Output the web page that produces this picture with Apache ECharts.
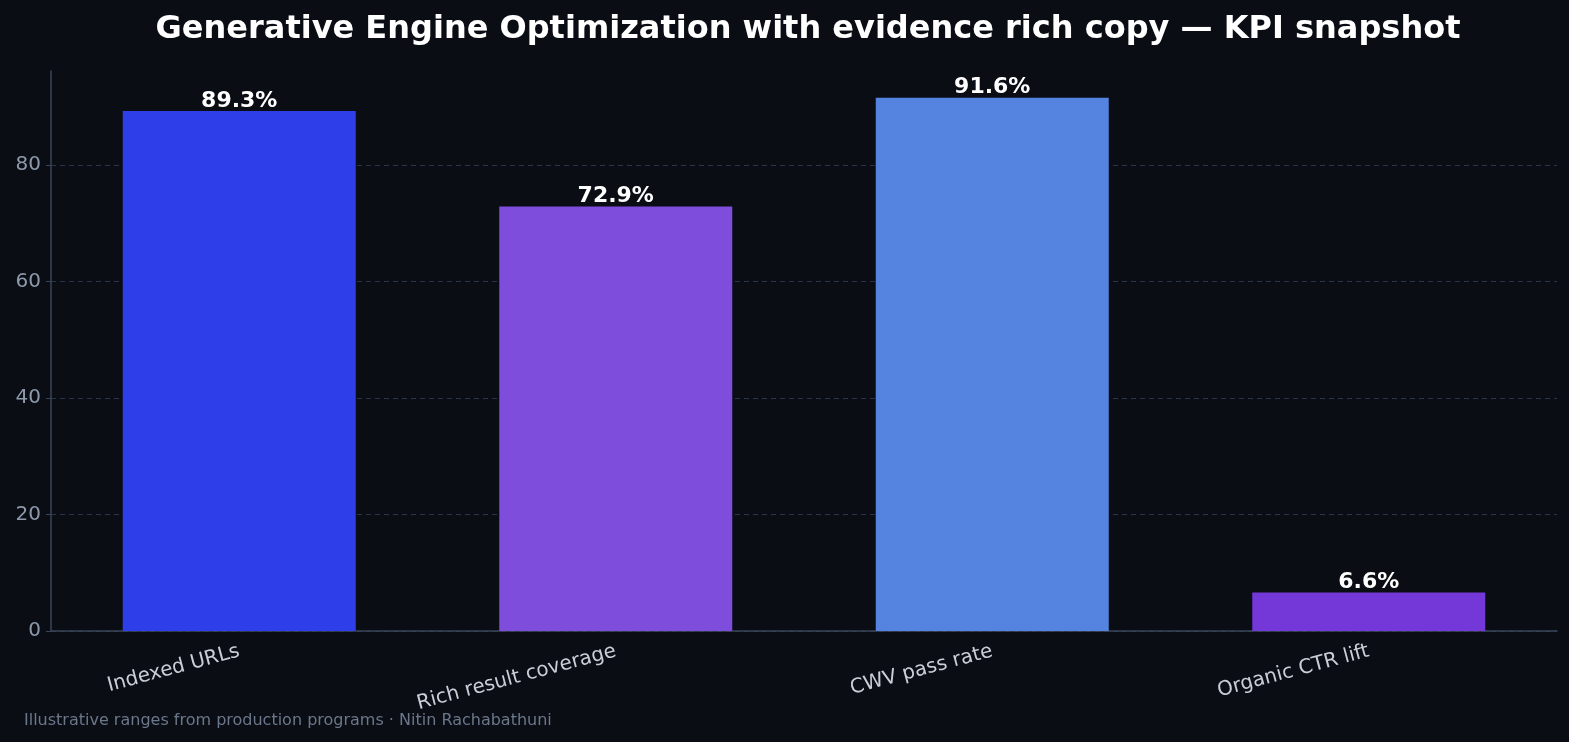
<!DOCTYPE html>
<html>
<head>
<meta charset="utf-8">
<script src="https://cdn.jsdelivr.net/npm/echarts@6/dist/echarts.min.js"></script>
<style>
  html, body { margin: 0; padding: 0; background: #0a0d14; }
  #chart { width: 1569px; height: 742px; }
</style>
</head>
<body>
<div id="chart"></div>
<script>
// KPI snapshot values
var categories = ["Indexed URLs", "Rich result coverage", "CWV pass rate", "Organic CTR lift"];
var values = [89.3, 72.9, 91.6, 6.6];
var barColors = ["#2e3fea", "#7e4ddc", "#5584e0", "#7437d8"];
var yTicks = [0, 20, 40, 60, 80];

var FONT = "DejaVu Sans, sans-serif";
var GRID_COLOR = "#29334a";

function initChartWithOption(id, option) {
    var myChart = echarts.init(document.getElementById(id));
    myChart.setOption(option);
}

var barData = [];
for (var i = 0; i < values.length; i++) {
    barData.push({ value: values[i], itemStyle: { color: barColors[i] } });
}

// one colour per split line; the last one (at the axis max) stays hidden
var splitColors = [];
for (var i = 0; i < yTicks.length; i++) splitColors.push(GRID_COLOR);
splitColors.push("rgba(0,0,0,0)");

var option = {
    backgroundColor: "#0a0d14",
    animation: false,
    title: {
        text: "Generative Engine Optimization with evidence rich copy \u2014 KPI snapshot",
        left: 803,
        top: 9,
        textAlign: "center",
        textStyle: { color: "#ffffff", fontFamily: FONT, fontWeight: "bold", fontSize: 32 }
    },
    grid: { left: 51, right: 12, top: 71, bottom: 111, containLabel: false },
    xAxis: {
        type: "category",
        data: categories,
        axisLine: { lineStyle: { color: "#3a4559", width: 1.5 } },
        axisTick: { alignWithLabel: true, length: 5, lineStyle: { color: "#000000" } },
        axisLabel: {
            rotate: 15,
            margin: 20,
            color: "#c9ced8",
            fontFamily: FONT,
            fontSize: 20
        }
    },
    yAxis: {
        type: "value",
        min: 0,
        max: values[2] * 1.05,
        interval: 20,
        axisLine: { show: true, lineStyle: { color: "#3a4559", width: 1.5 } },
        axisTick: { show: true, length: 5, lineStyle: { color: "#3a4559" } },
        axisLabel: {
            margin: 10,
            color: "#8d99ab",
            fontFamily: FONT,
            fontSize: 20,
            showMaxLabel: false,
            formatter: function (v) { return yTicks.indexOf(v) >= 0 ? String(v) : ""; }
        },
        splitLine: { show: true, lineStyle: { color: splitColors, type: [5, 4], width: 1 } }
    },
    series: [{
        type: "bar",
        data: barData,
        barWidth: 233,
        label: {
            show: true,
            position: "top",
            distance: -1,
            color: "#ffffff",
            fontFamily: FONT,
            fontWeight: "bold",
            fontSize: 22,
            formatter: function (p) { return p.value.toFixed(1) + "%"; }
        }
    }],
    graphic: [{
        type: "text",
        left: 24,
        top: 713,
        style: {
            text: "Illustrative ranges from production programs \u00b7 Nitin Rachabathuni",
            fill: "#6b778a",
            font: "16px DejaVu Sans, sans-serif"
        }
    }]
};

initChartWithOption("chart", option);
</script>
</body>
</html>
